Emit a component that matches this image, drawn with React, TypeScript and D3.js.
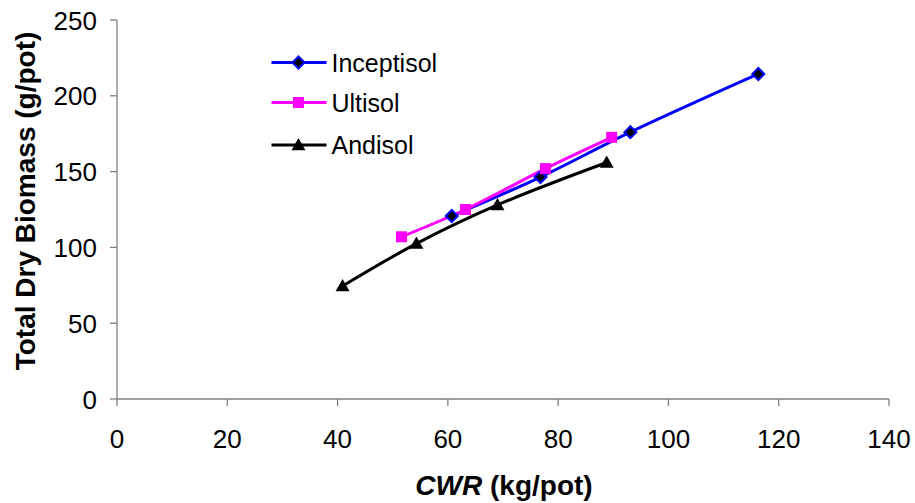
import React from "react";
import * as d3 from "d3";

const xTicks = [0, 20, 40, 60, 80, 100, 120, 140];
const yTicks = [0, 50, 100, 150, 200, 250];

const inceptisolX = [60.7, 76.8, 93.1, 116.3];
const inceptisolY = [120.7, 146.4, 176.0, 214.4];
const ultisolX = [51.6, 63.2, 77.7, 89.7];
const ultisolY = [107.0, 125.0, 152.0, 172.6];
const andisolX = [40.9, 54.3, 69.0, 88.8];
const andisolY = [74.5, 102.5, 128.0, 156.0];

const W = 915, H = 503;
const x = d3.scaleLinear().domain([0, 140]).range([117, 889]);
const y = d3.scaleLinear().domain([0, 250]).range([399, 20]);

const font = "Arial, 'Liberation Sans', Helvetica, sans-serif";

type Pt = [number, number];
const zip = (a: number[], b: number[]): Pt[] => a.map((v, i) => [v, b[i]]);

const line = d3
  .line<Pt>()
  .x((d) => x(d[0]))
  .y((d) => y(d[1]))
  .curve(d3.curveCatmullRom.alpha(0.5));

function Diamond({ cx, cy }: { cx: number; cy: number }) {
  const r = 6;
  return (
    <path
      d={`M${cx},${cy - r}L${cx + r},${cy}L${cx},${cy + r}L${cx - r},${cy}Z`}
      fill="#000"
      stroke="#0000ff"
      strokeWidth={2}
    />
  );
}
function Square({ cx, cy }: { cx: number; cy: number }) {
  const r = 5.5;
  return <rect x={cx - r} y={cy - r} width={2 * r} height={2 * r} fill="#ff00ff" />;
}
function Tri({ cx, cy }: { cx: number; cy: number }) {
  const r = 7;
  return (
    <path
      d={`M${cx},${cy - r}L${cx + r},${cy + r * 0.75}L${cx - r},${cy + r * 0.75}Z`}
      fill="#000"
    />
  );
}

export default function App() {
  const inc = zip(inceptisolX, inceptisolY);
  const ult = zip(ultisolX, ultisolY);
  const and = zip(andisolX, andisolY);
  const legend = [
    { name: "Inceptisol", color: "#0000ff", M: Diamond, y: 62.5 },
    { name: "Ultisol", color: "#ff00ff", M: Square, y: 102.5 },
    { name: "Andisol", color: "#000000", M: Tri, y: 145 },
  ];
  return (
    <svg width={W} height={H} style={{ position: "absolute", left: 0, top: 0, background: "#fff" }}>
      {/* axes */}
      <line x1={x(0)} x2={x(140)} y1={y(0)} y2={y(0)} stroke="#808080" strokeWidth={1.3} />
      <line x1={x(0)} x2={x(0)} y1={y(0)} y2={y(250)} stroke="#808080" strokeWidth={1.3} />
      {yTicks.map((t) => (
        <g key={"y" + t}>
          <line x1={x(0) - 7} x2={x(0)} y1={y(t)} y2={y(t)} stroke="#808080" strokeWidth={1.3} />
          <text x={97} y={y(t) + 9.5} textAnchor="end" fontFamily={font} fontSize={26} fill="#000">
            {t}
          </text>
        </g>
      ))}
      {xTicks.map((t) => (
        <g key={"x" + t}>
          <line x1={x(t)} x2={x(t)} y1={y(0)} y2={y(0) + 7} stroke="#808080" strokeWidth={1.3} />
          <text x={x(t)} y={448} textAnchor="middle" fontFamily={font} fontSize={26} fill="#000">
            {t}
          </text>
        </g>
      ))}
      <text
        transform={`translate(35,201) rotate(-90)`}
        textAnchor="middle"
        fontFamily={font}
        fontSize={28}
        fontWeight="bold"
        fill="#000"
      >
        Total Dry Biomass (g/pot)
      </text>
      <text x={504} y={495} textAnchor="middle" fontFamily={font} fontSize={28} fontWeight="bold" fill="#000">
        <tspan fontStyle="italic">CWR</tspan> (kg/pot)
      </text>

      {/* series */}
      <path d={line(and) || ""} fill="none" stroke="#000" strokeWidth={3} />
      <path d={line(inc) || ""} fill="none" stroke="#0000ff" strokeWidth={3} />
      <path d={line(ult) || ""} fill="none" stroke="#ff00ff" strokeWidth={3} />
      {and.map((d, i) => (
        <Tri key={"a" + i} cx={x(d[0])} cy={y(d[1])} />
      ))}
      {inc.map((d, i) => (
        <Diamond key={"i" + i} cx={x(d[0])} cy={y(d[1])} />
      ))}
      {ult.map((d, i) => (
        <Square key={"u" + i} cx={x(d[0])} cy={y(d[1])} />
      ))}

      {/* legend */}
      {legend.map((l) => (
        <g key={l.name}>
          <line x1={271.5} x2={326.5} y1={l.y} y2={l.y} stroke={l.color} strokeWidth={3} />
          <l.M cx={298.5} cy={l.y} />
          <text x={331.5} y={l.y + 9} fontFamily={font} fontSize={25} fill="#000">
            {l.name}
          </text>
        </g>
      ))}
    </svg>
  );
}
